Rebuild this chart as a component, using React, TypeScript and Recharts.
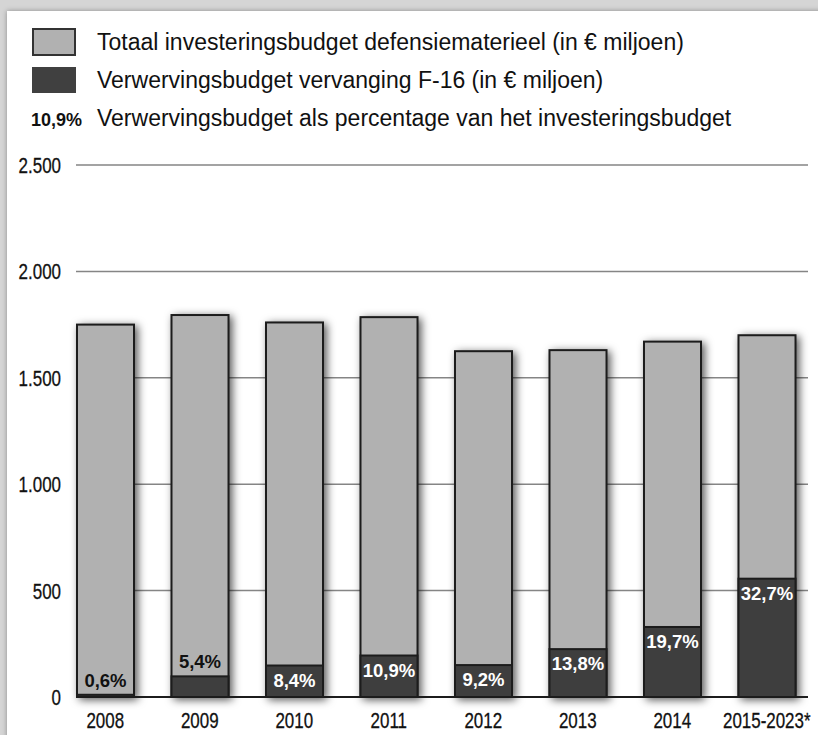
import React from 'react';
import { BarChart, Bar, XAxis, YAxis, CartesianGrid, LabelList } from 'recharts';

// Investeringsbudget defensiematerieel vs. verwervingsbudget F-16 (in € miljoen)
const years = ['2008', '2009', '2010', '2011', '2012', '2013', '2014', '2015-2023*'];
const totalBudget = [1750, 1795, 1760, 1785, 1625, 1630, 1670, 1700];
const f16Budget = [10.5, 97, 148, 195, 150, 225, 329, 556];
const shareLabels = ['0,6%', '5,4%', '8,4%', '10,9%', '9,2%', '13,8%', '19,7%', '32,7%'];
const yTicks = [0, 500, 1000, 1500, 2000, 2500];

const data = years.map((year, i) => ({
  year,
  total: totalBudget[i],
  f16: f16Budget[i],
  share: shareLabels[i],
}));

const sans = "'Liberation Sans', Arial, sans-serif";

const formatThousands = (v: number) => String(v).replace(/\B(?=(\d{3})+(?!\d))/g, '.');

// no condensed font installed, so squeeze Liberation Sans horizontally
const CondensedTick = (props: any) => {
  const { x, y, payload, textAnchor, fmt, dy } = props;
  const label = fmt ? fmt(payload.value) : payload.value;
  return (
    <g transform={`translate(${x},${y}) scale(0.77,1)`}>
      <text x={0} y={0} dy={dy} textAnchor={textAnchor} fontFamily={sans} fontSize={22}
        fill="#111" stroke="#111" strokeWidth={0.3}>
        {label}
      </text>
    </g>
  );
};

const TotalShape = (props: any) => {
  const { x, y, width, height } = props;
  return (
    <rect x={x} y={y} width={width} height={height} fill="#b1b1b1"
      stroke="#1c1c1c" strokeWidth={2} filter="url(#barShadow)" />
  );
};

const F16Shape = (props: any) => {
  const { x, y, width, height } = props;
  return <rect x={x} y={y} width={width} height={height} fill="#3e3e3e" stroke="#1c1c1c" strokeWidth={2} />;
};

// short bars get a black label above them, the rest a white label inside
const ShareLabel = (props: any) => {
  const { x, y, width, value, index } = props;
  const outside = index < 2;
  return (
    <text
      x={x + width / 2}
      y={outside ? y - 8 : y + 21}
      textAnchor="middle"
      fontFamily={sans}
      fontWeight="bold"
      fontSize={18.5}
      fill={outside ? '#111' : '#fff'}
    >
      {value}
    </text>
  );
};

const Legend = () => (
  <svg width={818} height={735} style={{ position: 'absolute', left: 0, top: 0, pointerEvents: 'none' }}>
    <defs>
      <filter id="barShadow" x="-30%" y="-30%" width="160%" height="160%">
        <feDropShadow dx={3} dy={2} stdDeviation={4.5} floodColor="#000" floodOpacity={0.65} />
      </filter>
    </defs>
    <rect x={33} y={29} width={42} height={26} fill="#b1b1b1" stroke="#333" strokeWidth={2} />
    <rect x={32} y={67} width={44} height={26} fill="#404040" />
    <g fontFamily={sans} fontSize={23} fill="#111">
      <text x={97} y={50}>Totaal investeringsbudget defensiematerieel (in € miljoen)</text>
      <text x={97} y={88}>Verwervingsbudget vervanging F-16 (in € miljoen)</text>
      <text x={97} y={126}>Verwervingsbudget als percentage van het investeringsbudget</text>
    </g>
    <text x={31} y={126} fontFamily={sans} fontSize={18} fontWeight="bold" fill="#111">10,9%</text>
  </svg>
);

export default function App() {
  return (
    <div style={{ position: 'absolute', left: 0, top: 0, width: 818, height: 735, background: '#d5d5d5', overflow: 'hidden' }}>
      <div style={{ position: 'absolute', left: 7, top: 11, width: 820, height: 740, background: '#fff', boxShadow: '0 0 5px rgba(0,0,0,0.35)' }} />
      <div style={{ position: 'absolute', left: 0, top: 0 }}>
        <BarChart width={818} height={735} data={data} barGap={-57} barSize={57}
          margin={{ top: 165, right: 10, bottom: 0, left: 0 }}>
          <CartesianGrid vertical={false} stroke="#858585" strokeWidth={1.5} />
          <XAxis dataKey="year" interval={0} padding={{ left: -18, right: -6 }}
            axisLine={{ stroke: '#1c1c1c', strokeWidth: 2 }} tickLine={false}
            tickSize={0} tickMargin={15} height={38}
            tick={<CondensedTick dy={16} />} />
          <YAxis domain={[0, 2500]} ticks={yTicks} width={76} axisLine={false} tickLine={false}
            tickSize={0} tickMargin={15}
            tick={<CondensedTick dy={8} fmt={formatThousands} />} />
          <Bar dataKey="total" shape={TotalShape} isAnimationActive={false} />
          <Bar dataKey="f16" shape={F16Shape} isAnimationActive={false}>
            <LabelList dataKey="share" content={ShareLabel} />
          </Bar>
        </BarChart>
      </div>
      <Legend />
    </div>
  );
}
